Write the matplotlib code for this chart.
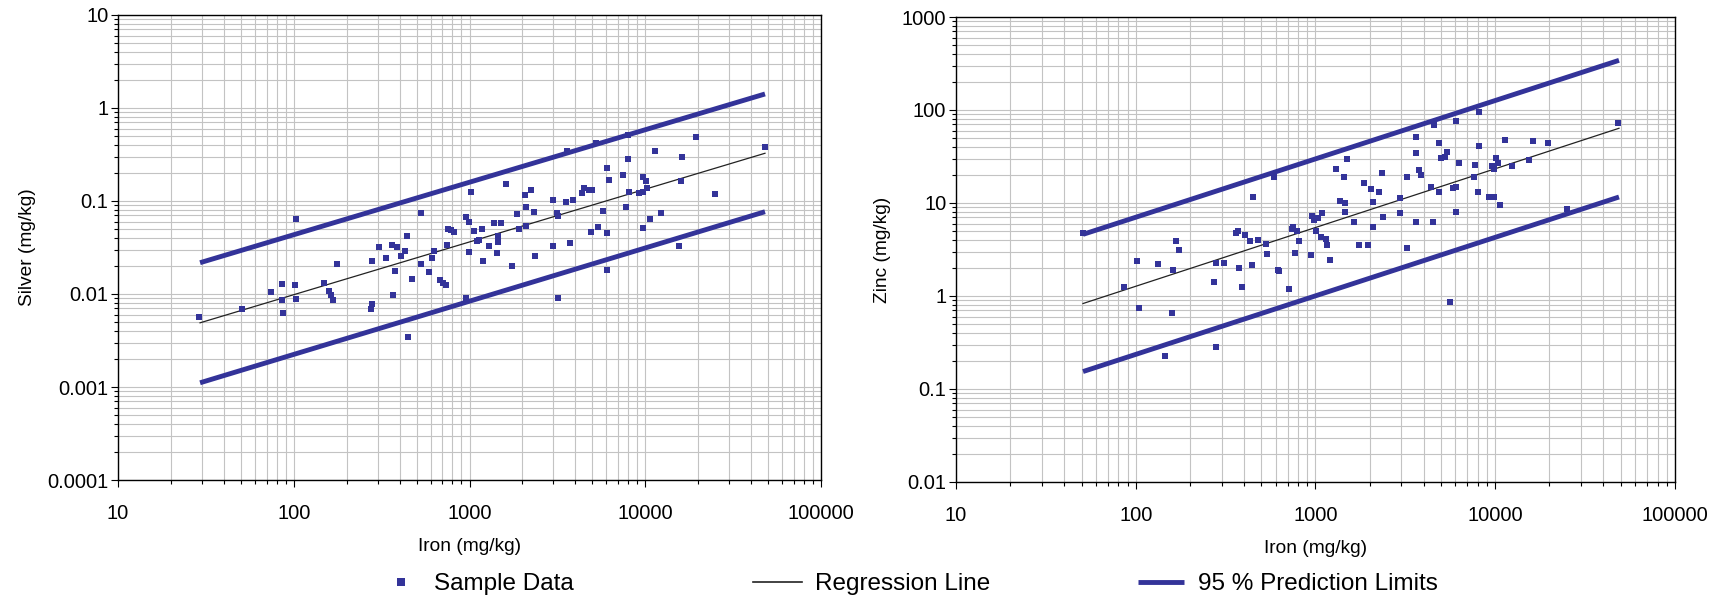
import matplotlib
matplotlib.use('Agg')
import matplotlib.pyplot as plt
from matplotlib.ticker import LogLocator, NullFormatter, FixedLocator, FixedFormatter
from matplotlib.lines import Line2D

plt.rcParams['font.family'] = ['Liberation Sans', 'DejaVu Sans']

# Silver vs iron samples (mg/kg)
iron_ag = [29, 51, 74, 86, 86, 87, 102, 103, 103, 149,
           159, 163, 167, 176, 275, 279, 279, 306, 335, 367,
           362, 377, 387, 408, 430, 441, 471, 530, 530, 588,
           612, 628, 680, 707, 735, 745, 755, 785, 816, 955,
           994, 994, 1020, 1061, 1103, 1132, 1178, 1193, 1291, 1379,
           1511, 1434, 1453, 1453, 447, 955, 1614, 2239, 2069, 2987,
           3540, 3880, 4370, 4480, 4790, 4980, 2100, 1864, 2330, 3150,
           3190, 2100, 1913, 2990, 3730, 2360, 1745, 3190, 3590, 5250,
           7980, 19450, 48000, 11360, 16190, 7980, 6060, 7470, 9710, 10100,
           6220, 15980, 10230, 8080, 9210, 9710, 24900, 5750, 7770, 12290,
           10640, 9710, 4910, 5380, 6060, 15560, 6060]
silver = [0.0057, 0.0069, 0.0105, 0.0128, 0.0086, 0.0062, 0.0125, 0.0088, 0.064, 0.0131,
          0.0108, 0.0098, 0.0086, 0.021, 0.0069, 0.0078, 0.0226, 0.032, 0.0244, 0.0097,
          0.0336, 0.0177, 0.032, 0.0256, 0.029, 0.042, 0.0145, 0.074, 0.021, 0.0173,
          0.0244, 0.029, 0.0142, 0.0131, 0.0125, 0.0336, 0.050, 0.0488, 0.0464, 0.067,
          0.059, 0.0283, 0.125, 0.0476, 0.037, 0.038, 0.050, 0.0226, 0.0328, 0.058,
          0.058, 0.0276, 0.042, 0.0362, 0.00345, 0.0091, 0.152, 0.131, 0.116, 0.1025,
          0.0975, 0.1025, 0.122, 0.138, 0.131, 0.131, 0.086, 0.072, 0.076, 0.074,
          0.069, 0.054, 0.050, 0.0328, 0.0353, 0.0256, 0.020, 0.0091, 0.345, 0.42,
          0.513, 0.488, 0.38, 0.345, 0.297, 0.283, 0.226, 0.19, 0.181, 0.164,
          0.168, 0.164, 0.138, 0.125, 0.122, 0.125, 0.119, 0.078, 0.086, 0.074,
          0.064, 0.051, 0.0464, 0.0525, 0.0453, 0.0328, 0.0181]

# regression and 95% prediction limits at the ends of the iron range
ag_line_iron = [29.3, 48000]
ag_fit = [0.0049, 0.326]
ag_upper = [0.0217, 1.415]
ag_lower = [0.00111, 0.0767]

# Zinc vs iron samples (mg/kg)
iron_zn = [51, 86, 102, 104, 133, 159, 161, 167, 174, 145,
           272, 280, 310, 280, 361, 371, 375, 390, 405, 432,
           443, 449, 479, 530, 537, 588, 619, 627, 712, 740,
           750, 769, 789, 810, 944, 956, 981, 1033, 1006, 1087,
           1073, 1144, 1159, 1204, 1300, 1441, 1497, 1369, 1459, 1459,
           1638, 1746, 1959, 1861, 2036, 2089, 2256, 2344, 2374, 2089,
           2952, 2952, 3228, 3228, 3623, 3623, 3623, 3766, 3864, 4392,
           4505, 4563, 4866, 4992, 5254, 5391, 4866, 5821, 6047, 6047,
           6047, 5602, 8123, 8123, 11330, 16220, 19660, 48200, 10100, 10360,
           6285, 7716, 9592, 9840, 12400, 15410, 7619, 8017, 9231, 9840,
           10630, 25070]
zinc = [4.75, 1.25, 2.38, 0.74, 2.21, 0.66, 1.9, 3.9, 3.12, 0.226,
        1.41, 2.26, 2.26, 0.283, 4.75, 5.0, 2.0, 1.25, 4.53, 3.9,
        2.15, 11.6, 4.0, 3.62, 2.83, 19.0, 1.9, 1.86, 1.19, 5.25,
        5.5, 2.9, 5.0, 3.9, 2.76, 7.2, 6.6, 6.9, 5.0, 7.8,
        4.3, 4.1, 3.53, 2.44, 23.2, 19.0, 29.7, 10.5, 10.0, 8.0,
        6.25, 3.53, 3.53, 16.4, 14.2, 10.3, 13.1, 21.0, 7.07, 5.5,
        11.3, 7.8, 19.0, 3.28, 51, 34.5, 6.25, 22.6, 20.0, 14.9,
        6.25, 69, 44.2, 30.5, 31.2, 35.3, 13.1, 14.5, 14.9, 76,
        8.0, 0.86, 95, 41, 47.6, 46.4, 44.2, 72.4, 30.5, 26.9,
        26.9, 25.6, 25.0, 23.2, 25.0, 29.0, 19.0, 13.1, 11.6, 11.6,
        9.5, 8.6]

zn_line_iron = [50.9, 48800]
zn_fit = [0.83, 63.6]
zn_upper = [4.6, 342]
zn_lower = [0.154, 11.6]

x_ticks = [10, 100, 1000, 10000, 100000]
x_labels = ['10', '100', '1000', '10000', '100000']
ag_ticks = [0.0001, 0.001, 0.01, 0.1, 1, 10]
ag_labels = ['0.0001', '0.001', '0.01', '0.1', '1', '10']
zn_ticks = [0.01, 0.1, 1, 10, 100, 1000]
zn_labels = ['0.01', '0.1', '1', '10', '100', '1000']

BLUE = '#333399'
GRID = '#c3c3c3'


def panel(ax, x, y, lx, fit, up, lo, yticks, ylabels, ylabel):
    ax.set_xscale('log')
    ax.set_yscale('log')
    ax.plot(lx, up, color=BLUE, lw=3.5, solid_capstyle='butt', zorder=3)
    ax.plot(lx, lo, color=BLUE, lw=3.5, solid_capstyle='butt', zorder=3)
    ax.plot(lx, fit, color='#222222', lw=0.9, zorder=3)
    ax.plot(x, y, 's', color=BLUE, ms=3.8, mew=0, zorder=4)

    ax.set_xlim(x_ticks[0], x_ticks[-1])
    ax.set_ylim(yticks[0], yticks[-1])
    ax.xaxis.set_major_locator(FixedLocator(x_ticks))
    ax.xaxis.set_major_formatter(FixedFormatter(x_labels))
    ax.yaxis.set_major_locator(FixedLocator(yticks))
    ax.yaxis.set_major_formatter(FixedFormatter(ylabels))
    for a in (ax.xaxis, ax.yaxis):
        a.set_minor_locator(LogLocator(base=10, subs=range(2, 10), numticks=20))
        a.set_minor_formatter(NullFormatter())

    ax.grid(which='both', color=GRID, lw=0.8)
    ax.set_axisbelow(True)
    ax.tick_params(which='major', direction='out', length=5, width=0.8, labelsize=14.5, color='black')
    ax.tick_params(which='minor', direction='out', length=3, width=0.8, color='black')
    ax.tick_params(axis='x', which='major', pad=12)
    ax.tick_params(axis='y', which='major', pad=2)
    for s in ax.spines.values():
        s.set_color('black')
        s.set_linewidth(1.0)
    ax.set_xlabel('Iron (mg/kg)', fontsize=13.8, labelpad=11)
    ax.set_ylabel(ylabel, fontsize=13.8, labelpad=8)


fig = plt.figure(figsize=(17.31, 6.05), dpi=100)
ax1 = fig.add_axes([0.06817, 0.20661, 0.40613, 0.76860])
ax2 = fig.add_axes([0.55228, 0.20331, 0.41537, 0.76859])

panel(ax1, iron_ag, silver, ag_line_iron, ag_fit, ag_upper, ag_lower,
      ag_ticks, ag_labels, 'Silver (mg/kg)')
panel(ax2, iron_zn, zinc, zn_line_iron, zn_fit, zn_upper, zn_lower,
      zn_ticks, zn_labels, 'Zinc (mg/kg)')

# legend entries sit at fixed spots along the bottom
entries = [
    (Line2D([], [], ls='none', marker='s', color=BLUE, ms=5.2, mew=0), 'Sample Data', 389, 1.0, 0.86),
    (Line2D([], [], color='#222222', lw=1.2), 'Regression Line', 753, 2.0, 0.55),
    (Line2D([], [], color=BLUE, lw=3.5, solid_capstyle='butt'), '95 % Prediction Limits', 1138, 1.9, 0.55),
]
for h, lab, px, hl, tp in entries:
    fig.legend([h], [lab], loc='center left', bbox_to_anchor=(px / 1731, 1 - 584 / 605),
               frameon=False, fontsize=17.5, handlelength=hl, handletextpad=tp,
               borderpad=0, borderaxespad=0)

fig.savefig('out.png', dpi=100)
